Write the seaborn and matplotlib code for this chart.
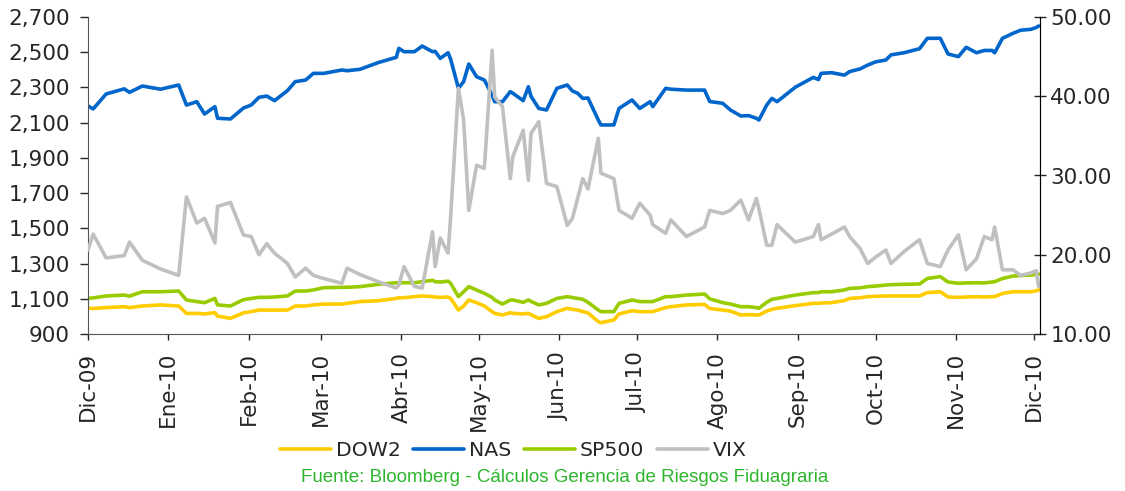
import pandas as pd
import seaborn as sns
import matplotlib.pyplot as plt
from matplotlib.ticker import FuncFormatter

# Values
dates = [
    "2009-12-01", "2009-12-03", "2009-12-08", "2009-12-15", "2009-12-17", "2009-12-22", "2009-12-29",
    "2010-01-05", "2010-01-08", "2010-01-12", "2010-01-15", "2010-01-19", "2010-01-20", "2010-01-25",
    "2010-01-30", "2010-02-02", "2010-02-05", "2010-02-08", "2010-02-11", "2010-02-16", "2010-02-19",
    "2010-02-23", "2010-02-26", "2010-03-02", "2010-03-09", "2010-03-11", "2010-03-16", "2010-03-23",
    "2010-03-30", "2010-03-31", "2010-04-02", "2010-04-06", "2010-04-09", "2010-04-13", "2010-04-14",
    "2010-04-16", "2010-04-19", "2010-04-20", "2010-04-23", "2010-04-25", "2010-04-27", "2010-04-30",
    "2010-05-03", "2010-05-06", "2010-05-07", "2010-05-10", "2010-05-13", "2010-05-14", "2010-05-18",
    "2010-05-20", "2010-05-21", "2010-05-24", "2010-05-27", "2010-05-31", "2010-06-04", "2010-06-06",
    "2010-06-08", "2010-06-10", "2010-06-12", "2010-06-16", "2010-06-17", "2010-06-22", "2010-06-24",
    "2010-06-29", "2010-07-02", "2010-07-06", "2010-07-07", "2010-07-12", "2010-07-14", "2010-07-20",
    "2010-07-27", "2010-07-29", "2010-08-03", "2010-08-06", "2010-08-10", "2010-08-13", "2010-08-16",
    "2010-08-17", "2010-08-20", "2010-08-22", "2010-08-24", "2010-08-31", "2010-09-07", "2010-09-09",
    "2010-09-10", "2010-09-14", "2010-09-19", "2010-09-21", "2010-09-25", "2010-09-28", "2010-10-01",
    "2010-10-05", "2010-10-07", "2010-10-12", "2010-10-18", "2010-10-21", "2010-10-26", "2010-10-29",
    "2010-11-02", "2010-11-05", "2010-11-09", "2010-11-12", "2010-11-15", "2010-11-16", "2010-11-19",
    "2010-11-23", "2010-11-26", "2010-11-30", "2010-12-02", "2010-12-03",
]

nas = [
    2195, 2178, 2263, 2292, 2272, 2308, 2290,
    2314, 2200, 2219, 2149, 2191, 2125, 2121,
    2183, 2200, 2244, 2251, 2225, 2282, 2333,
    2342, 2380, 2380, 2399, 2395, 2403, 2441,
    2471, 2522, 2503, 2503, 2535, 2503, 2505,
    2465, 2497, 2460, 2295, 2333, 2433, 2361,
    2342, 2257, 2219, 2219, 2276, 2267, 2225,
    2304, 2250, 2181, 2172, 2295, 2314, 2280,
    2267, 2238, 2240, 2115, 2087, 2087, 2181,
    2229, 2181, 2219, 2191, 2295, 2290, 2285,
    2285, 2220, 2210, 2172, 2138, 2140, 2125,
    2115, 2200, 2238, 2219, 2301, 2357, 2345,
    2380, 2384, 2370, 2390, 2405, 2427, 2445,
    2456, 2485, 2497, 2520, 2579, 2579, 2490,
    2475, 2528, 2497, 2510, 2510, 2497, 2579,
    2607, 2625, 2630, 2640, 2649,
]

vix = [
    20.6, 22.6, 19.6, 19.9, 21.6, 19.3, 18.2,
    17.4, 27.3, 24.0, 24.6, 21.5, 26.1, 26.6,
    22.5, 22.3, 20.0, 21.4, 20.2, 18.9, 17.2,
    18.3, 17.4, 17.0, 16.4, 18.3, 17.5, 16.6,
    15.8, 16.2, 18.5, 16.0, 15.8, 22.9, 18.5,
    22.1, 20.2, 24.8, 41.0, 37.0, 25.6, 31.3,
    30.9, 45.8, 39.9, 38.7, 29.6, 32.4, 35.7,
    29.4, 35.3, 36.8, 29.0, 28.6, 23.7, 24.6,
    27.1, 29.6, 28.3, 34.7, 30.3, 29.6, 25.6,
    24.6, 26.5, 25.0, 23.8, 22.7, 24.4, 22.3,
    23.5, 25.6, 25.2, 25.6, 26.9, 24.4, 27.1,
    25.8, 21.2, 21.2, 23.8, 21.6, 22.3, 23.8,
    21.9, 22.6, 23.5, 22.3, 20.8, 18.9, 19.7,
    20.6, 18.9, 20.4, 21.9, 18.9, 18.5, 20.6,
    22.5, 18.1, 19.5, 22.3, 21.9, 23.5, 18.1,
    18.1, 17.4, 17.7, 18.0, 16.0,
]

sp500 = [
    1102, 1105, 1116, 1121, 1115, 1140, 1140,
    1144, 1093, 1084, 1078, 1102, 1065, 1059,
    1095, 1102, 1108, 1108, 1110, 1116, 1144,
    1144, 1150, 1163, 1165, 1165, 1169, 1182,
    1191, 1191, 1191, 1191, 1197, 1205, 1197,
    1195, 1200, 1188, 1112, 1140, 1169, 1150,
    1131, 1108, 1093, 1070, 1093, 1093, 1080,
    1093, 1085, 1065, 1074, 1102, 1112, 1107,
    1102, 1097, 1080, 1036, 1027, 1027, 1074,
    1093, 1084, 1084, 1084, 1112, 1112, 1121,
    1127, 1100, 1078, 1070, 1055, 1055, 1050,
    1046, 1080, 1097, 1102, 1121, 1135, 1135,
    1140, 1140, 1150, 1159, 1162, 1169, 1172,
    1178, 1180, 1182, 1184, 1215, 1226, 1195,
    1188, 1190, 1191, 1190, 1195, 1197, 1215,
    1229, 1232, 1235, 1238, 1240,
]

dow2 = [
    1046, 1045, 1050, 1055, 1050, 1059, 1065,
    1059, 1017, 1017, 1014, 1021, 1002, 989,
    1020, 1027, 1036, 1036, 1036, 1036, 1059,
    1059, 1065, 1070, 1070, 1074, 1084, 1089,
    1102, 1106, 1106, 1112, 1116, 1112, 1110,
    1108, 1110, 1102, 1036, 1059, 1093, 1078,
    1059, 1027, 1017, 1008, 1021, 1017, 1014,
    1017, 1010, 989, 998, 1027, 1046, 1040,
    1036, 1027, 1020, 970, 964, 980, 1014,
    1032, 1027, 1027, 1027, 1050, 1055, 1065,
    1068, 1045, 1036, 1030, 1008, 1010, 1008,
    1008, 1030, 1040, 1046, 1061, 1074, 1074,
    1076, 1078, 1090, 1102, 1106, 1112, 1114,
    1116, 1116, 1116, 1116, 1135, 1140, 1110,
    1108, 1110, 1112, 1110, 1112, 1112, 1130,
    1140, 1140, 1140, 1145, 1150,
]

month_labels = ["Dic-09", "Ene-10", "Feb-10", "Mar-10", "Abr-10", "May-10", "Jun-10",
                "Jul-10", "Ago-10", "Sep-10", "Oct-10", "Nov-10", "Dic-10"]

colors = {"DOW2": "#FFCC00", "NAS": "#0066CC", "SP500": "#99CC00", "VIX": "#C0C0C0"}

sns.set_style("ticks")
plt.rcParams["font.family"] = ["DejaVu Sans"]

df = pd.DataFrame({"fecha": pd.to_datetime(dates), "DOW2": dow2, "NAS": nas,
                   "SP500": sp500, "VIX": vix})

fig, ax = plt.subplots(figsize=(11.25, 4.91), dpi=100)
fig.subplots_adjust(left=88 / 1125, right=1040 / 1125, top=1 - 17 / 491, bottom=1 - 334 / 491)

for name in ["DOW2", "NAS", "SP500"]:
    sns.lineplot(data=df, x="fecha", y=name, ax=ax, color=colors[name], linewidth=2.6, legend=False)

ax2 = ax.twinx()
sns.lineplot(data=df, x="fecha", y="VIX", ax=ax2, color=colors["VIX"], linewidth=2.6, legend=False)

# axes
ax.set_xlim(pd.Timestamp("2009-12-01"), pd.Timestamp("2010-12-03 12:00"))
ax.set_ylim(900, 2700)
ax2.set_ylim(10, 50)
ax.set_yticks(range(900, 2701, 200))
ax2.set_yticks(range(10, 51, 10))
ax.yaxis.set_major_formatter(FuncFormatter(lambda v, p: f"{v:,.0f}"))
ax2.yaxis.set_major_formatter(FuncFormatter(lambda v, p: f"{v:.2f}"))

ticks = pd.date_range("2009-12-01", "2010-12-01", freq="MS")
ax.set_xticks(ticks)
ax.set_xticklabels(month_labels, rotation=90)

ax.set_xlabel("")
ax.set_ylabel("")
ax2.set_ylabel("")

ax.tick_params(axis="y", direction="out", length=6, width=1, labelsize=15.5, pad=7)
ax.tick_params(axis="x", direction="out", length=4, width=1, labelsize=15.5, pad=9)
ax2.tick_params(axis="y", direction="inout", length=9, width=1, labelsize=15.5, pad=3)

for s in ["top"]:
    ax.spines[s].set_visible(False)
    ax2.spines[s].set_visible(False)
ax.spines["left"].set_color("#555555")
ax.spines["bottom"].set_color("#555555")
ax2.spines["right"].set_color("black")
ax2.spines["left"].set_visible(False)
ax2.spines["bottom"].set_visible(False)

handles = ax.get_lines() + ax2.get_lines()
labels = ["DOW2", "NAS", "SP500", "VIX"]
fig.legend(handles, labels, loc="center", bbox_to_anchor=(0.4564, 1 - 451 / 491), ncol=4,
           frameon=False, fontsize=14.7, handlelength=2.5, handletextpad=0.25, columnspacing=0.6)

fig.text(0.502, 1 - 477 / 491, "Fuente: Bloomberg - Cálculos Gerencia de Riesgos Fiduagraria",
         color="#2DB52D", fontsize=13.5, family="Liberation Sans", ha="center", va="center")

fig.savefig("out.png", dpi=100)
